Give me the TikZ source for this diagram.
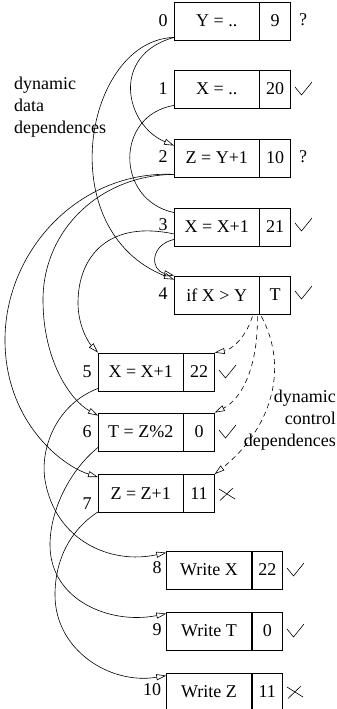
\documentclass[tikz,border=0pt]{standalone}
\usepackage{fontspec}
\setmainfont{Liberation Serif}
\usetikzlibrary{arrows.meta,calc}
\begin{document}
\begin{tikzpicture}[x=1pt,y=-1pt,
  every node/.style={font=\fontsize{18}{22}\selectfont, inner sep=0pt},
  cellmain/.style={draw, line width=0.8pt, minimum width=84.5pt, minimum height=38pt, anchor=center},
  cellval/.style={draw, line width=0.8pt, minimum width=30.5pt, minimum height=38pt, anchor=west},
  dep/.style={line width=0.6pt, -{Triangle[open,length=10pt,width=6pt]}},
  ctl/.style={dep, dash pattern=on 5pt off 4pt},
  chk/.pic={\draw[line width=0.6pt] (-8,-2) -- (-1.5,6) -- (9,-7);},
  crs/.pic={\draw[line width=0.6pt] (-8,-5) -- (8,5) (-7,6.5) -- (6,-6);}
]
\useasboundingbox (0,0) rectangle (337,709);

% boxes
\node[cellmain] (b0) at (216.75,21) {Y = ..};
\node[cellval] (v0) at (b0.east) {9};
\node[cellmain] (b1) at (216.75,89) {X = ..};
\node[cellval] (v1) at (b1.east) {20};
\node[cellmain] (b2) at (216.75,158) {Z = Y+1};
\node[cellval] (v2) at (b2.east) {10};
\node[cellmain] (b3) at (216.75,227) {X = X+1};
\node[cellval] (v3) at (b3.east) {21};
\node[cellmain] (b4) at (216.75,295) {if X > Y};
\node[cellval] (v4) at (b4.east) {T};
\node[cellmain] (b5) at (140.7,372) {X = X+1};
\node[cellval] (v5) at (b5.east) {22};
\node[cellmain] (b6) at (140.7,432) {T = Z\%2};
\node[cellval] (v6) at (b6.east) {0};
\node[cellmain] (b7) at (140.7,493.5) {Z = Z+1};
\node[cellval] (v7) at (b7.east) {11};
\node[cellmain] (b8) at (209,570) {Write X};
\node[cellval] (v8) at (b8.east) {22};
\node[cellmain] (b9) at (209,631) {Write T};
\node[cellval] (v9) at (b9.east) {0};
\node[cellmain] (b10) at (209,692) {Write Z};
\node[cellval] (v10) at (b10.east) {11};

% numbers
\node (n0) at (163,21) {0};
\node (n1) at (163,89) {1};
\node (n2) at (163,157) {2};
\node (n3) at (163,225) {3};
\node (n4) at (163,294) {4};
\node (n5) at (87,372) {5};
\node (n6) at (87,432) {6};
\node (n7) at (87,504) {7};
\node (n8) at (157,568) {8};
\node (n9) at (157,630) {9};
\node (n10) at (152,690) {10};

% marks
\node (q0) at (303,20) {?};
\node (q2) at (303,157) {?};
\pic at (303,89) {chk};
\pic at (303,225) {chk};
\pic at (303,293) {chk};
\pic at (227,372) {chk};
\pic at (227,432) {chk};
\pic at (227,494) {crs};
\pic at (295,570) {chk};
\pic at (295,631) {chk};
\pic at (295,692) {crs};

% labels
\node[anchor=north west, align=left] (tdata) at (14,77) {dynamic\\data\\dependences};
\node[anchor=north east, align=right] (tctl) at (336,390) {dynamic\\control\\dependences};

% data dependences
\draw[dep] ($(b0.south west)+(0,-3)$) .. controls (110,55) and (125,125) .. ($(b2.north west)+(0,7)$);
\draw[dep] ($(b0.south west)+(0,-3)$) .. controls (85,40) and (50,230) .. ($(b4.north west)+(0,4)$);
\draw[line width=0.6pt] ($(b1.south west)+(0,-3)$) .. controls (115,115) and (115,200) .. ($(b3.north west)+(0,5)$);
\draw[dep] ($(b2.south west)+(0,-3)$) .. controls (100,175) and (43,230) .. (43,300) .. controls (43,360) and (70,400) .. ($(b6.north west)+(0,3)$);
\draw[dep] ($(b2.south west)+(0,-3)$) .. controls (80,170) and (5,250) .. (5,340) .. controls (5,420) and (60,465) .. ($(b7.north west)+(0,3)$);
\draw[dep] ($(b3.south west)+(0,-7)$) .. controls (150,245) and (150,270) .. (b4.north west);
\draw[dep] ($(b3.west)+(0,7)$) .. controls (110,220) and (78,255) .. (78,303) .. controls (78,325) and (88,342) .. (b5.north west);
\draw[dep] ($(b5.south west)+(0,-3)$) .. controls (55,405) and (40,450) .. (45,480) .. controls (55,540) and (110,565) .. ($(b8.north west)+(0,2)$);
\draw[dep] ($(b6.south west)+(0,-4)$) .. controls (70,470) and (50,510) .. (50,545) .. controls (50,600) and (110,625) .. ($(b9.north west)+(0,2)$);
\draw[dep] ($(b7.south west)+(0,-1)$) .. controls (70,530) and (55,560) .. (55,595) .. controls (55,650) and (110,685) .. ($(b10.north west)+(0,3)$);

% control dependences
\draw[ctl] ($(v4.south west)+(-7,2)$) .. controls (245,340) and (230,350) .. (v5.north east);
\draw[ctl] ($(v4.south west)+(-2,2)$) .. controls (258,370) and (240,400) .. (v6.north east);
\draw[ctl] ($(v4.south west)+(2,2)$) .. controls (290,370) and (270,430) .. (v7.north east);
\end{tikzpicture}
\end{document}
